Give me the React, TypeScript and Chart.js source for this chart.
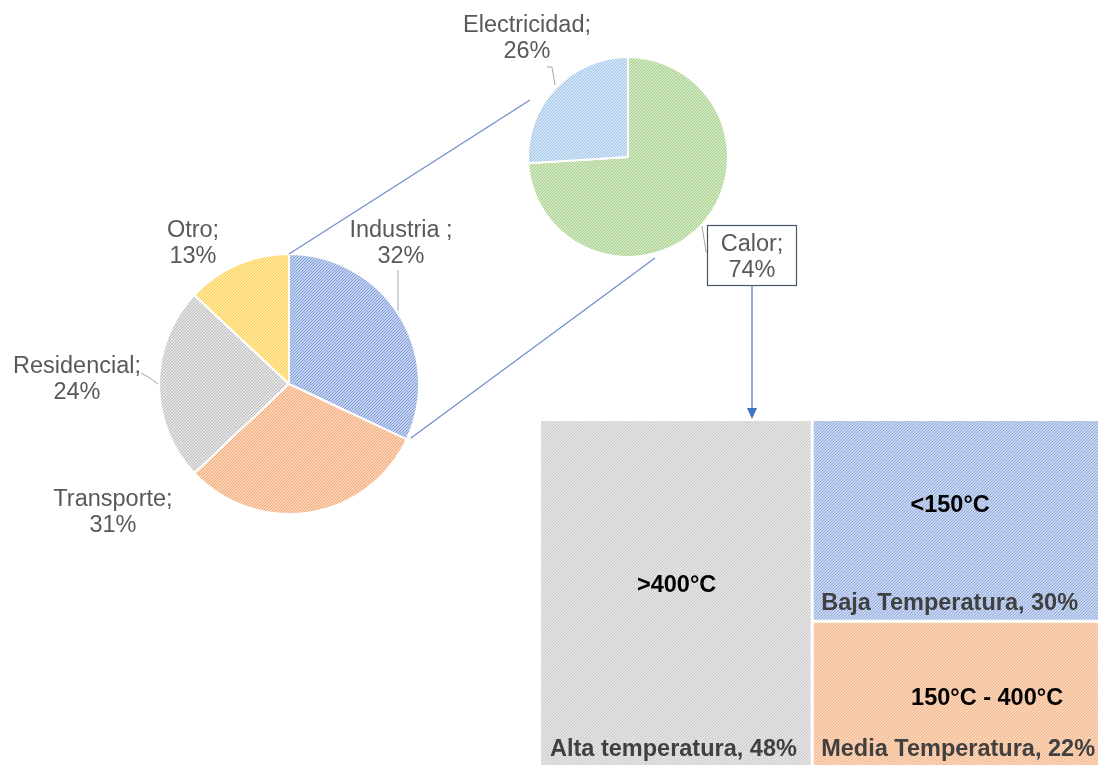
import React, { useEffect, useRef } from 'react';
import { Chart, registerables } from 'chart.js';
Chart.register(...registerables);

// ---------- data ----------
const MAIN_LABELS = ['Industria ;', 'Transporte;', 'Residencial;', 'Otro;'];
const MAIN_VALUES = [32, 31, 24, 13];
const SUB_LABELS = ['Calor;', 'Electricidad;'];
const SUB_VALUES = [74, 26];
const HEAT_NAMES = ['Alta temperatura', 'Baja Temperatura', 'Media Temperatura'];
const HEAT_RANGES = ['>400°C', '<150°C', '150°C - 400°C'];
const HEAT_VALUES = [48, 30, 22];

const W = 1098;
const H = 765;
const TW = 1106; // treemap canvas extends slightly past the page edge (clipped)
const TH = 768;
const FONT = '"Liberation Sans", Arial, sans-serif';
const LABEL_COLOR = '#595959';
const LEADER_COLOR = '#a6a6a6';
const CONNECT_COLOR = '#6f8ccb';

function hatch(base: string, stripe: string, lw = 1) {
  const s = 3;
  const c = document.createElement('canvas');
  c.width = s;
  c.height = s;
  const g = c.getContext('2d')!;
  g.fillStyle = base;
  g.fillRect(0, 0, s, s);
  g.strokeStyle = stripe;
  g.lineWidth = lw;
  g.beginPath();
  g.moveTo(-1, s + 1);
  g.lineTo(s + 1, -1);
  g.moveTo(-1, 1);
  g.lineTo(1, -1);
  g.moveTo(s - 1, s + 1);
  g.lineTo(s + 1, s - 1);
  g.stroke();
  return g.createPattern(c, 'repeat')!;
}

// label offsets relative to pie center (pixels)
const MAIN_LABEL_POS = [
  { x: 112, y: -153 },
  { x: -176, y: 116 },
  { x: -212, y: -17 },
  { x: -96, y: -153 },
];
const MAIN_LEADERS: { x: number; y: number }[][] = [
  [{ x: 109, y: -114 }, { x: 109, y: -73 }],
  [],
  [{ x: -148, y: -11 }, { x: -139, y: -6 }, { x: -131, y: 0 }],
  [],
];
const SUB_LABEL_POS = [
  { x: 124, y: 88 },
  { x: -101, y: -131 },
];
const SUB_LEADERS: { x: number; y: number }[][] = [
  [{ x: 74, y: 69 }, { x: 78, y: 95 }, { x: 79, y: 95 }],
  [{ x: -81, y: -90 }, { x: -76, y: -90 }, { x: -73, y: -72 }],
];

function drawLeader(ctx: CanvasRenderingContext2D, cx: number, cy: number, pts: { x: number; y: number }[]) {
  if (!pts.length) return;
  ctx.save();
  ctx.strokeStyle = LEADER_COLOR;
  ctx.lineWidth = 1;
  ctx.beginPath();
  pts.forEach((p, i) => (i ? ctx.lineTo(cx + p.x, cy + p.y) : ctx.moveTo(cx + p.x, cy + p.y)));
  ctx.stroke();
  ctx.restore();
}

function drawTwoLine(ctx: CanvasRenderingContext2D, x: number, y: number, l1: string, l2: string) {
  ctx.save();
  ctx.fillStyle = LABEL_COLOR;
  ctx.font = `23.5px ${FONT}`;
  ctx.textAlign = 'center';
  ctx.textBaseline = 'middle';
  ctx.fillText(l1, x, y);
  ctx.fillText(l2, x, y + 26);
  ctx.restore();
}

const mainPlugin = {
  id: 'mainLabels',
  afterDatasetsDraw(chart: any) {
    const ctx = chart.ctx as CanvasRenderingContext2D;
    const meta = chart.getDatasetMeta(0);
    const a0 = meta.data[0];
    const cx = a0.x;
    const cy = a0.y;
    const r = a0.outerRadius;
    MAIN_LABELS.forEach((lab, i) => {
      drawLeader(ctx, cx, cy, MAIN_LEADERS[i]);
      const p = MAIN_LABEL_POS[i];
      drawTwoLine(ctx, cx + p.x, cy + p.y, lab, MAIN_VALUES[i] + '%');
    });
    // connector lines from the exploded slice (Industria) to the secondary pie
    const sA = a0.startAngle;
    const eA = a0.endAngle;
    ctx.save();
    ctx.strokeStyle = CONNECT_COLOR;
    ctx.lineWidth = 1.2;
    ctx.beginPath();
    ctx.moveTo(cx + r * Math.cos(sA), cy + r * Math.sin(sA));
    ctx.lineTo(530, 100);
    ctx.moveTo(cx + r * Math.cos(eA) + 4, cy + r * Math.sin(eA) - 1);
    ctx.lineTo(655, 258);
    ctx.stroke();
    ctx.restore();
  },
};

const subPlugin = {
  id: 'subLabels',
  afterDatasetsDraw(chart: any) {
    const ctx = chart.ctx as CanvasRenderingContext2D;
    const a0 = chart.getDatasetMeta(0).data[0];
    const cx = a0.x;
    const cy = a0.y;
    SUB_LABELS.forEach((lab, i) => {
      drawLeader(ctx, cx, cy, SUB_LEADERS[i]);
      const p = SUB_LABEL_POS[i];
      drawTwoLine(ctx, cx + p.x, cy + p.y, lab, SUB_VALUES[i] + '%');
    });
    // box around Calor label
    ctx.save();
    ctx.strokeStyle = '#44546a';
    ctx.lineWidth = 1.2;
    ctx.strokeRect(cx + 79.5, cy + 68.5, 89, 60);
    // arrow down to the treemap
    ctx.strokeStyle = '#4472c4';
    ctx.fillStyle = '#4472c4';
    ctx.lineWidth = 1.2;
    ctx.beginPath();
    ctx.moveTo(cx + 124, cy + 129);
    ctx.lineTo(cx + 124, cy + 254);
    ctx.stroke();
    ctx.beginPath();
    ctx.moveTo(cx + 119, cy + 251);
    ctx.lineTo(cx + 129, cy + 251);
    ctx.lineTo(cx + 124, cy + 262);
    ctx.closePath();
    ctx.fill();
    ctx.restore();
  },
};

const CAT_OFFSETS = [
  { x: 0, y: -9 },
  { x: -9, y: -16 },
  { x: 28, y: 4 },
];

const treemapPlugin = {
  id: 'treemap',
  afterDatasetsDraw(chart: any) {
    const ctx = chart.ctx as CanvasRenderingContext2D;
    const xs = chart.scales.x;
    const ys = chart.scales.y;
    const fills = [
      hatch('#e3e3e3', '#cbcbcb'),
      hatch('#c8d5f0', '#93acdf'),
      hatch('#fbd5b9', '#f3b487'),
    ];
    const total = HEAT_VALUES.reduce((a, b) => a + b, 0);
    const firstW = (HEAT_VALUES[0] / total) * 100;
    const rest = total - HEAT_VALUES[0];
    const rects: { x0: number; x1: number; y0: number; y1: number }[] = [];
    rects.push({ x0: 0, x1: firstW, y0: 0, y1: 100 });
    let top = 100;
    for (let i = 1; i < HEAT_VALUES.length; i++) {
      const h = (HEAT_VALUES[i] / rest) * 100;
      rects.push({ x0: firstW, x1: 100, y0: top - h, y1: top });
      top -= h;
    }
    const px = rects.map((rc) => ({
      x0: xs.getPixelForValue(rc.x0),
      x1: xs.getPixelForValue(rc.x1),
      y0: ys.getPixelForValue(rc.y1),
      y1: ys.getPixelForValue(rc.y0),
    }));
    ctx.save();
    px.forEach((p, i) => {
      ctx.fillStyle = fills[i];
      ctx.fillRect(p.x0, p.y0, p.x1 - p.x0, p.y1 - p.y0);
    });
    // white gaps between cells
    ctx.strokeStyle = '#ffffff';
    ctx.lineWidth = 3;
    ctx.beginPath();
    ctx.moveTo(px[1].x0, px[1].y0);
    ctx.lineTo(px[1].x0, px[0].y1);
    ctx.moveTo(px[2].x0, px[2].y0);
    ctx.lineTo(px[2].x1, px[2].y0);
    ctx.stroke();
    px.forEach((p, i) => {
      ctx.font = `bold 23.5px ${FONT}`;
      ctx.textBaseline = 'middle';
      ctx.textAlign = 'center';
      ctx.fillStyle = '#000000';
      const o = CAT_OFFSETS[i];
      ctx.fillText(HEAT_RANGES[i], (p.x0 + p.x1) / 2 + o.x, (p.y0 + p.y1) / 2 + o.y);
      ctx.textAlign = 'left';
      ctx.fillStyle = '#404040';
      ctx.fillText(`${HEAT_NAMES[i]}, ${HEAT_VALUES[i]}%`, p.x0 + 9, p.y1 - 18);
    });
    ctx.restore();
  },
};

export default function App() {
  const mainRef = useRef<HTMLCanvasElement>(null);
  const subRef = useRef<HTMLCanvasElement>(null);
  const treeRef = useRef<HTMLCanvasElement>(null);

  useEffect(() => {
    document.body.style.margin = '0';
    const mainFills = [
      hatch('#c3d0ee', '#7f9dd9'),
      hatch('#fbd3b6', '#f2a772'),
      hatch('#e3e3e3', '#bcbcbc'),
      hatch('#ffe7a0', '#fbcf4f'),
    ];
    const subFills = [hatch('#d2e8c4', '#a3cf85'), hatch('#d3e4f5', '#9ec3e8')];

    const main = new Chart(mainRef.current!, {
      type: 'pie',
      data: {
        labels: MAIN_LABELS,
        datasets: [
          {
            data: MAIN_VALUES,
            backgroundColor: mainFills as any,
            borderColor: '#ffffff',
            borderWidth: 2,
          },
        ],
      },
      options: {
        responsive: false,
        animation: false,
        layout: { padding: { left: 158, top: 253, right: W - 420, bottom: H - 515 } },
        plugins: { legend: { display: false }, tooltip: { enabled: false } },
      },
      plugins: [mainPlugin],
    });

    const sub = new Chart(subRef.current!, {
      type: 'pie',
      data: {
        labels: SUB_LABELS,
        datasets: [
          {
            data: SUB_VALUES,
            backgroundColor: subFills as any,
            borderColor: '#ffffff',
            borderWidth: 2,
          },
        ],
      },
      options: {
        responsive: false,
        animation: false,
        layout: { padding: { left: 527, top: 56, right: W - 729, bottom: H - 258 } },
        plugins: { legend: { display: false }, tooltip: { enabled: false } },
      },
      plugins: [subPlugin],
    });

    const tree = new Chart(treeRef.current!, {
      type: 'scatter',
      data: { datasets: [{ data: [] }] },
      options: {
        responsive: false,
        animation: false,
        layout: { padding: { left: 541, top: 421, right: 0, bottom: 0 } },
        scales: {
          x: { type: 'linear', min: 0, max: 100, display: false },
          y: { type: 'linear', min: 0, max: 100, display: false },
        },
        plugins: { legend: { display: false }, tooltip: { enabled: false } },
      },
      plugins: [treemapPlugin],
    });

    return () => {
      main.destroy();
      sub.destroy();
      tree.destroy();
    };
  }, []);

  const cs: React.CSSProperties = { position: 'absolute', left: 0, top: 0 };
  return (
    <div style={{ position: 'relative', width: W, height: H, overflow: 'hidden', background: '#fff' }}>
      <canvas ref={treeRef} width={TW} height={TH} style={cs} />
      <canvas ref={mainRef} width={W} height={H} style={cs} />
      <canvas ref={subRef} width={W} height={H} style={cs} />
    </div>
  );
}
